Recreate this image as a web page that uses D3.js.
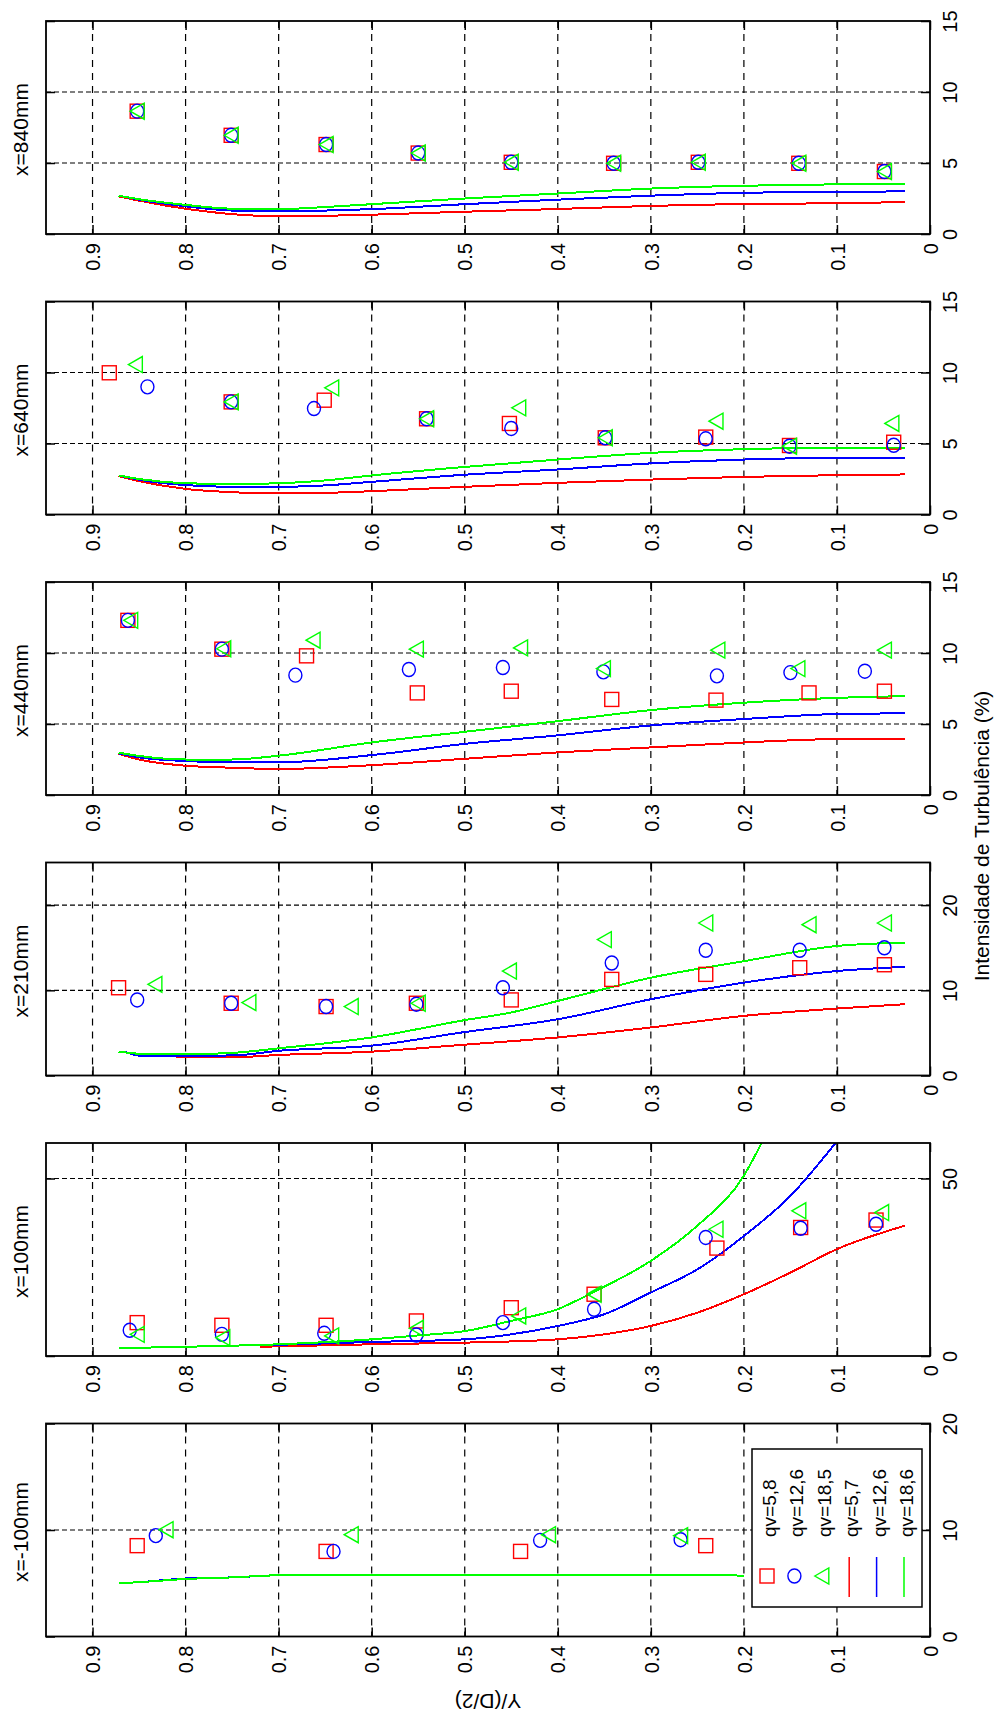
<!DOCTYPE html>
<html><head><meta charset="utf-8">
<script src="https://cdn.jsdelivr.net/npm/d3@7/dist/d3.min.js"></script>
<style>
body{margin:0;background:#fff;}
svg text{font-family:"Liberation Sans",Arial,sans-serif;fill:#000;}
</style></head><body>
<svg id="c" width="1000" height="1715"></svg>
<script>
// ---------- DATA ----------
const panelTitles = ["x=840mm","x=640mm","x=440mm","x=210mm","x=100mm","x=-100mm"];
const panelMax = [15,15,15,25,60,20];
const panelTicks = [[0,5,10,15],[0,5,10,15],[0,5,10,15],[0,10,20],[0,50],[0,10,20]];
const xTicks = [0.9,0.8,0.7,0.6,0.5,0.4,0.3,0.2,0.1,0];
const xTickLabels = ["0.9","0.8","0.7","0.6","0.5","0.4","0.3","0.2","0.1","0"];
const legendLabels = ["qv=5,8","qv=12,6","qv=18,5","qv=5,7","qv=12,6","qv=18,6"];
const xLabel = "Y/(D/2)";
const yLabel = "Intensidade de Turbulência (%)";

// x=840mm
const sq840 = [[0.852,8.65],[0.751,6.95],[0.649,6.3],[0.550,5.7],[0.450,5.05],[0.340,4.98],[0.249,5.05],[0.141,4.98],[0.049,4.4]];
const ci840 = [[0.852,8.65],[0.751,6.95],[0.649,6.3],[0.550,5.7],[0.450,5.05],[0.340,4.98],[0.249,5.05],[0.141,4.98],[0.049,4.4]];
const tr840 = [[0.852,8.65],[0.751,6.95],[0.649,6.3],[0.550,5.7],[0.450,5.05],[0.340,4.98],[0.249,5.05],[0.141,4.98],[0.049,4.4]];
const r840 = [[0.872,2.65],[0.85,2.35],[0.8,1.78],[0.75,1.4],[0.7,1.25],[0.65,1.28],[0.6,1.36],[0.5,1.57],[0.4,1.76],[0.3,1.98],[0.2,2.12],[0.1,2.16],[0.027,2.25]];
const b840 = [[0.872,2.7],[0.85,2.42],[0.8,1.95],[0.75,1.65],[0.7,1.6],[0.65,1.65],[0.6,1.75],[0.5,2.1],[0.4,2.42],[0.3,2.7],[0.2,2.9],[0.1,2.97],[0.027,3.0]];
const g840 = [[0.872,2.7],[0.85,2.45],[0.8,2.05],[0.75,1.78],[0.7,1.75],[0.65,1.9],[0.6,2.1],[0.5,2.5],[0.4,2.85],[0.3,3.2],[0.2,3.4],[0.1,3.5],[0.027,3.55]];

// x=640mm
const sq640 = [[0.882,9.98],[0.751,7.93],[0.651,8.05],[0.541,6.74],[0.452,6.41],[0.349,5.4],[0.241,5.45],[0.151,4.86],[0.039,5.09]];
const ci640 = [[0.841,8.99],[0.751,7.93],[0.662,7.46],[0.541,6.74],[0.450,6.06],[0.349,5.4],[0.241,5.33],[0.151,4.81],[0.039,4.88]];
const tr640 = [[0.854,10.56],[0.751,7.93],[0.643,8.92],[0.541,6.74],[0.442,7.51],[0.349,5.4],[0.230,6.57],[0.151,4.81],[0.041,6.41]];
const r640 = [[0.872,2.7],[0.85,2.35],[0.8,1.8],[0.75,1.57],[0.7,1.48],[0.65,1.52],[0.6,1.64],[0.5,1.95],[0.4,2.23],[0.3,2.46],[0.2,2.65],[0.1,2.77],[0.027,2.82]];
const b640 = [[0.872,2.75],[0.85,2.45],[0.8,2.07],[0.75,1.95],[0.7,1.95],[0.65,2.05],[0.6,2.3],[0.5,2.8],[0.4,3.17],[0.3,3.6],[0.2,3.87],[0.1,3.99],[0.027,4.0]];
const g640 = [[0.872,2.75],[0.85,2.5],[0.8,2.2],[0.75,2.15],[0.7,2.2],[0.65,2.4],[0.6,2.75],[0.5,3.35],[0.4,3.87],[0.3,4.34],[0.2,4.6],[0.1,4.7],[0.027,4.7]];

// x=440mm
const sq440 = [[0.862,12.3],[0.761,10.27],[0.670,9.8],[0.551,7.19],[0.450,7.31],[0.342,6.73],[0.230,6.68],[0.130,7.19],[0.049,7.31]];
const ci440 = [[0.862,12.3],[0.761,10.27],[0.682,8.44],[0.560,8.84],[0.459,8.98],[0.351,8.67],[0.229,8.39],[0.150,8.62],[0.070,8.72]];
const tr440 = [[0.859,12.3],[0.759,10.3],[0.663,10.9],[0.552,10.27],[0.440,10.36],[0.351,8.9],[0.228,10.2],[0.142,8.9],[0.049,10.2]];
const r440 = [[0.872,2.9],[0.85,2.5],[0.8,2.06],[0.75,1.92],[0.7,1.83],[0.6,2.1],[0.5,2.55],[0.4,3.0],[0.3,3.35],[0.2,3.7],[0.1,3.94],[0.027,3.96]];
const b440 = [[0.872,2.93],[0.85,2.65],[0.8,2.39],[0.75,2.3],[0.7,2.3],[0.6,2.81],[0.5,3.6],[0.4,4.2],[0.3,4.9],[0.2,5.35],[0.1,5.7],[0.027,5.75]];
const g440 = [[0.872,2.98],[0.85,2.75],[0.8,2.5],[0.75,2.5],[0.7,2.77],[0.6,3.7],[0.5,4.45],[0.4,5.2],[0.3,5.98],[0.2,6.5],[0.1,6.84],[0.027,6.96]];

// x=210mm
const sq210 = [[0.872,10.3],[0.751,8.48],[0.649,8.09],[0.552,8.48],[0.450,8.87],[0.342,11.28],[0.241,11.87],[0.140,12.65],[0.049,13.0]];
const ci210 = [[0.852,8.87],[0.751,8.48],[0.649,8.09],[0.552,8.37],[0.459,10.3],[0.342,13.2],[0.241,14.7],[0.140,14.7],[0.049,15.0]];
const tr210 = [[0.833,10.7],[0.732,8.56],[0.622,8.09],[0.550,8.48],[0.452,12.26],[0.350,15.95],[0.241,17.9],[0.130,17.7],[0.049,17.9]];
const r210 = [[0.81,2.14],[0.75,2.14],[0.7,2.41],[0.6,2.8],[0.5,3.62],[0.4,4.47],[0.3,5.64],[0.2,7.0],[0.1,7.86],[0.027,8.37]];
const b210 = [[0.865,2.8],[0.85,2.33],[0.8,2.33],[0.75,2.35],[0.7,2.9],[0.6,3.5],[0.5,5.1],[0.4,6.6],[0.3,8.95],[0.2,10.9],[0.1,12.26],[0.027,12.76]];
const g210 = [[0.872,2.8],[0.84,2.5],[0.8,2.5],[0.75,2.65],[0.7,3.19],[0.6,4.47],[0.5,6.5],[0.45,7.4],[0.4,8.75],[0.3,11.48],[0.2,13.42],[0.1,15.2],[0.027,15.6]];

// x=100mm
const sq100 = [[0.852,9.4],[0.761,8.65],[0.649,8.65],[0.552,9.87],[0.450,13.6],[0.361,17.4],[0.229,30.4],[0.139,36.2],[0.058,38.3]];
const ci100 = [[0.860,7.24],[0.761,6.1],[0.651,6.39],[0.552,5.92],[0.459,9.4],[0.361,13.16],[0.241,33.4],[0.139,36.0],[0.058,37.1]];
const tr100 = [[0.852,6.1],[0.760,5.17],[0.643,5.64],[0.552,7.8],[0.442,11.28],[0.361,17.4],[0.230,35.7],[0.141,40.9],[0.052,40.4]];
const r100 = [[0.72,2.6],[0.6,3.3],[0.5,3.76],[0.4,4.7],[0.35,6.1],[0.3,8.46],[0.25,12.2],[0.2,17.4],[0.15,23.5],[0.1,30.1],[0.027,36.7]];
const b100 = [[0.72,3.0],[0.6,3.95],[0.5,4.7],[0.45,6.1],[0.4,8.46],[0.35,11.75],[0.3,17.9],[0.25,24.4],[0.2,33.8],[0.15,45.1],[0.1,60.5]];
const g100 = [[0.872,2.2],[0.8,2.6],[0.7,3.3],[0.6,4.7],[0.55,5.8],[0.5,7.0],[0.45,9.9],[0.4,13.2],[0.361,18.1],[0.3,26.8],[0.25,36.7],[0.2,50.8],[0.18,60.5]];

// x=-100mm
const sqm100 = [[0.852,8.53],[0.649,7.99],[0.440,7.99],[0.241,8.53]];
const cim100 = [[0.832,9.47],[0.641,7.99],[0.419,9.03],[0.268,9.09]];
const trm100 = [[0.821,10.03],[0.622,9.56],[0.410,9.56],[0.268,9.47]];
const rm100 = [[0.872,5.0],[0.85,5.1],[0.8,5.4],[0.75,5.55],[0.7,5.75],[0.6,5.8],[0.5,5.8],[0.4,5.8],[0.3,5.8],[0.22,5.8],[0.2,5.65]];
const bm100 = [[0.872,5.0],[0.85,5.1],[0.8,5.45],[0.75,5.55],[0.7,5.75],[0.6,5.8],[0.5,5.8],[0.4,5.8],[0.3,5.8],[0.22,5.8],[0.2,5.65]];
const gm100 = [[0.872,5.0],[0.85,5.1],[0.8,5.4],[0.75,5.55],[0.7,5.75],[0.6,5.8],[0.5,5.8],[0.4,5.8],[0.3,5.8],[0.22,5.8],[0.2,5.65]];

const panelSeries = [
  {sq:sq840, ci:ci840, tr:tr840, r:r840, b:b840, g:g840},
  {sq:sq640, ci:ci640, tr:tr640, r:r640, b:b640, g:g640},
  {sq:sq440, ci:ci440, tr:tr440, r:r440, b:b440, g:g440},
  {sq:sq210, ci:ci210, tr:tr210, r:r210, b:b210, g:g210},
  {sq:sq100, ci:ci100, tr:tr100, r:r100, b:b100, g:g100},
  {sq:sqm100, ci:cim100, tr:trm100, r:rm100, b:bm100, g:gm100}
];

// ---------- LAYOUT ----------
const L = 46, R = 930, T0 = 21, PH = 213, STEP = 280.5, TICK = 9;
const RED = "#ff0000", BLUE = "#0000ff", GREEN = "#00ff00";
const svg = d3.select("#c");
const x = d3.scaleLinear().domain([0.95, 0]).range([L, R]);

function drawSquare(sel, cx, cy){ sel.append("rect").attr("x",cx-7).attr("y",cy-7).attr("width",14).attr("height",14)
  .attr("fill","none").attr("stroke",RED).attr("stroke-width",1.4); }
function drawCircle(sel, cx, cy){ sel.append("ellipse").attr("cx",cx).attr("cy",cy).attr("rx",6.5).attr("ry",7)
  .attr("fill","none").attr("stroke",BLUE).attr("stroke-width",1.4); }
function drawTri(sel, cx, cy){ sel.append("path").attr("d",`M${cx-7},${cy}L${cx+7},${cy-8}L${cx+7},${cy+8}Z`)
  .attr("fill","none").attr("stroke",GREEN).attr("stroke-width",1.4); }

panelTitles.forEach((title, i) => {
  const top = T0 + STEP*i, bot = top + PH;
  const y = d3.scaleLinear().domain([0, panelMax[i]]).range([bot, top]);
  const ticks = panelTicks[i];
  const s = panelSeries[i];
  const g = svg.append("g");

  g.append("clipPath").attr("id","clip"+i).append("rect")
    .attr("x",L).attr("y",top).attr("width",R-L).attr("height",PH);

  // grid
  g.append("g").selectAll("line").data(xTicks.filter(v=>v>0)).join("line")
    .attr("x1",d=>x(d)).attr("x2",d=>x(d)).attr("y1",top).attr("y2",bot)
    .attr("stroke","#000").attr("stroke-width",1.2).attr("stroke-dasharray","7,6");
  g.append("g").selectAll("line").data(ticks.filter(v=>v>0 && v<panelMax[i])).join("line")
    .attr("x1",L).attr("x2",R).attr("y1",d=>y(d)).attr("y2",d=>y(d))
    .attr("stroke","#000").attr("stroke-width",1.2).attr("stroke-dasharray","5,3");

  // axes (ticks inside)
  const axB = g.append("g").attr("transform",`translate(0,${bot})`)
    .call(d3.axisBottom(x).tickValues(xTicks).tickFormat((d,k)=>xTickLabels[k]).tickSizeInner(-TICK).tickSizeOuter(0));
  axB.select(".domain").remove();
  axB.selectAll("line").attr("stroke","#000").attr("stroke-width",1.5);
  axB.selectAll("text").attr("transform","rotate(-90)").attr("x",-9).attr("y",0).attr("dy","0.36em")
    .attr("text-anchor","end").style("font-size","20px").style("font-family","'Liberation Sans',Arial,sans-serif").attr("fill","#000");

  const axT = g.append("g").attr("transform",`translate(0,${top})`)
    .call(d3.axisTop(x).tickValues(xTicks).tickFormat("").tickSizeInner(-TICK).tickSizeOuter(0));
  axT.select(".domain").remove();
  axT.selectAll("line").attr("stroke","#000").attr("stroke-width",1.5);

  const axR = g.append("g").attr("transform",`translate(${R},0)`)
    .call(d3.axisRight(y).tickValues(ticks).tickFormat(d3.format("d")).tickSizeInner(-TICK).tickSizeOuter(0));
  axR.select(".domain").remove();
  axR.selectAll("line").attr("stroke","#000").attr("stroke-width",1.5);
  axR.selectAll("text").attr("transform","rotate(-90)").attr("x",0).attr("y",27).attr("dy","0")
    .attr("text-anchor","middle").style("font-size","20px").style("font-family","'Liberation Sans',Arial,sans-serif").attr("fill","#000");

  const axL = g.append("g").attr("transform",`translate(${L},0)`)
    .call(d3.axisLeft(y).tickValues(ticks).tickFormat("").tickSizeInner(-TICK).tickSizeOuter(0));
  axL.select(".domain").remove();
  axL.selectAll("line").attr("stroke","#000").attr("stroke-width",1.5);

  // lines
  const lg = g.append("g").attr("clip-path",`url(#clip${i})`);
  const line = d3.line().x(d=>x(d[0])).y(d=>y(d[1])).curve(d3.curveMonotoneX);
  [[s.r,RED],[s.b,BLUE],[s.g,GREEN]].forEach(([data,col])=>{
    lg.append("path").attr("d",line(data)).attr("fill","none").attr("stroke",col)
      .attr("stroke-width",2).attr("shape-rendering","crispEdges");
  });

  // markers
  const mg = g.append("g");
  s.sq.forEach(d=>drawSquare(mg, x(d[0]), y(d[1])));
  s.ci.forEach(d=>drawCircle(mg, x(d[0]), y(d[1])));
  s.tr.forEach(d=>drawTri(mg, x(d[0]), y(d[1])));

  // frame
  g.append("rect").attr("x",L).attr("y",top).attr("width",R-L).attr("height",PH)
    .attr("fill","none").attr("stroke","#000").attr("stroke-width",1.8);

  // title
  const cy = (top+bot)/2 + 2;
  g.append("text").attr("transform",`translate(28,${cy}) rotate(-90)`).attr("text-anchor","middle")
    .style("font-size","21px").text(title);

  // legend in last panel
  if (i === panelTitles.length-1) {
    const lgd = g.append("g");
    lgd.append("rect").attr("x",752).attr("y",1449).attr("width",170).attr("height",158)
      .attr("fill","#fff").attr("stroke","#000").attr("stroke-width",1.5);
    const colX = d3.range(6).map(k=>767 + k*27.4);
    const my = 1576;
    drawSquare(lgd, colX[0], my);
    drawCircle(lgd, colX[1], my);
    drawTri(lgd, colX[2], my);
    [RED,BLUE,GREEN].forEach((c,k)=>{
      lgd.append("line").attr("x1",colX[3+k]).attr("x2",colX[3+k]).attr("y1",1557).attr("y2",1597)
        .attr("stroke",c).attr("stroke-width",1.5);
    });
    legendLabels.forEach((t,k)=>{
      lgd.append("text").attr("transform",`translate(${colX[k]+9},1537) rotate(-90)`)
        .attr("text-anchor","start").style("font-size","19px").text(t);
    });
  }
});

// axis titles
svg.append("text").attr("transform","translate(488,1694) rotate(180)").attr("text-anchor","middle")
  .style("font-size","21px").text(xLabel);
svg.append("text").attr("transform","translate(989,836) rotate(-90)").attr("text-anchor","middle")
  .style("font-size","21px").text(yLabel);
</script>
</body></html>
